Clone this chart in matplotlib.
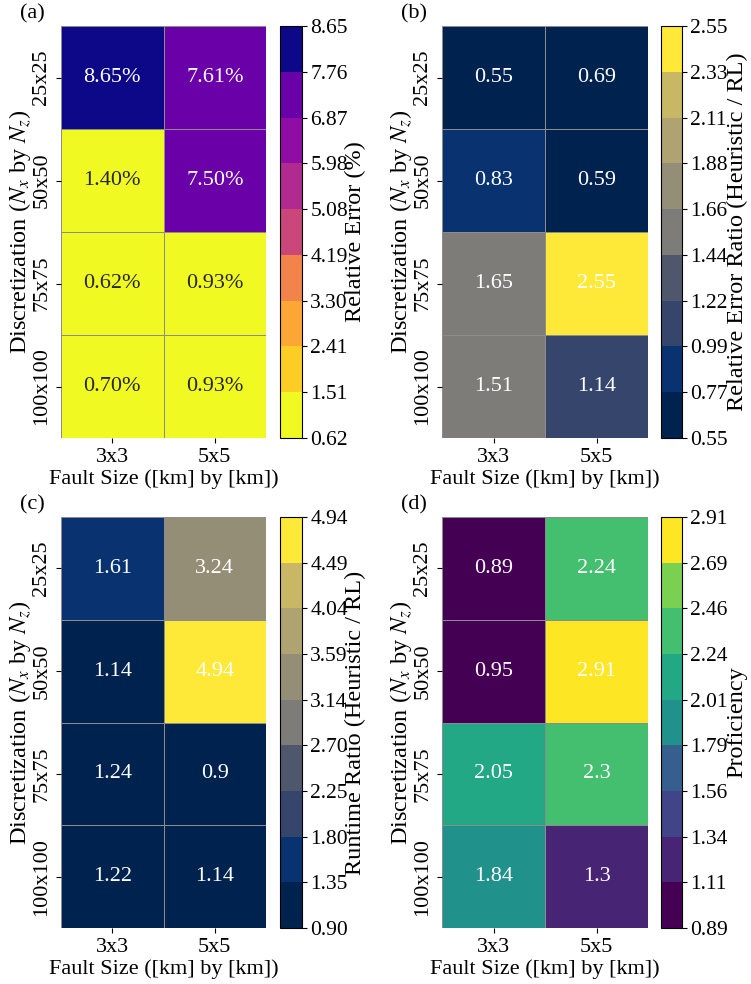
import numpy as np
import matplotlib
matplotlib.use("Agg")
import matplotlib.pyplot as plt
from matplotlib.colors import BoundaryNorm

plt.rcParams['font.family'] = ['Liberation Serif', 'DejaVu Serif']
plt.rcParams['mathtext.fontset'] = 'stix'
plt.rcParams['font.size'] = 16

fault_sizes = ['3x3', '5x5']
discretizations = ['25x25', '50x50', '75x75', '100x100']

rel_error = [[8.6523, 7.61], [1.40, 7.50], [0.6225, 0.93], [0.70, 0.93]]
err_ratio = [[0.55, 0.69], [0.83, 0.59], [1.65, 2.55], [1.51, 1.14]]
runtime_ratio = [[1.61, 3.24], [1.14, 4.94], [1.24, 0.90], [1.22, 1.14]]
proficiency = [[0.89, 2.24], [0.95, 2.91], [2.05, 2.30], [1.84, 1.30]]

panels = [
    ('(a)', rel_error, 'plasma_r', 'Relative Error (%)', 'pct'),
    ('(b)', err_ratio, 'cividis', 'Relative Error Ratio (Heuristic / RL)', 'white'),
    ('(c)', runtime_ratio, 'cividis', 'Runtime Ratio (Heuristic / RL)', 'white'),
    ('(d)', proficiency, 'viridis', 'Proficiency', 'white'),
]

W, H = 751, 984
fig = plt.figure(figsize=(W / 100, H / 100), dpi=100)

# pixel boxes: (left, right) x of heatmap and colorbar; (top, bottom) y
col_x = [(61, 266, 280, 302), (442, 648, 661, 682)]
row_y = [(26, 438), (517, 928)]
cbar_label_x = [355, 737]
ylabel_x = [20, 401]


def fmt_plain(v):
    s = '%.2f' % v
    if s.endswith('0'):
        s = s.rstrip('0').rstrip('.')
    return s


for i, (tag, data, cmap_name, cbar_label, mode) in enumerate(panels):
    r, c = divmod(i, 2)
    xl, xr, cl, cr = col_x[c]
    yt, yb = row_y[r]
    ax = fig.add_axes([xl / W, 1 - yb / H, (xr - xl) / W, (yb - yt) / H])
    cax = fig.add_axes([cl / W, 1 - yb / H, (cr - cl) / W, (yb - yt) / H])

    arr = np.array(data, dtype=float)
    vmin, vmax = arr.min(), arr.max()
    bounds = np.linspace(vmin, vmax, 10)
    cmap = plt.get_cmap(cmap_name, 11)
    norm = BoundaryNorm(bounds, 11)
    mesh = ax.pcolormesh(arr, cmap=cmap, norm=norm, edgecolors='#8c8c8c', linewidth=0.5)
    ax.set_xlim(0, arr.shape[1])
    ax.set_ylim(arr.shape[0], 0)
    for s in ax.spines.values():
        s.set_visible(False)

    for (yy, xx), v in np.ndenumerate(arr):
        if mode == 'pct':
            txt = '%.2f%%' % v
            rgba = cmap(norm(v))
            lum = 0.2126 * rgba[0] + 0.7152 * rgba[1] + 0.0722 * rgba[2]
            color = '0.15' if lum > 0.408 else 'white'
        else:
            txt = fmt_plain(v)
            color = 'white'
        ax.text(xx + 0.5, yy + 0.5, txt, ha='center', va='center', color=color, fontsize=16)

    ax.set_xticks(np.arange(arr.shape[1]) + 0.5)
    ax.set_xticklabels(fault_sizes)
    ax.set_yticks(np.arange(arr.shape[0]) + 0.5)
    ax.set_yticklabels(discretizations, rotation=90, va='center')
    ax.tick_params(labelsize=16)
    ax.set_xlabel('Fault Size ([km] by [km])', labelpad=2, fontsize=16)
    ax.set_ylabel('Discretization ($N_x$ by $N_z$)', fontsize=17.5)
    ax.yaxis.set_label_coords((ylabel_x[c] - xl) / (xr - xl), 0.5)
    ax.yaxis.label.set_va('center')
    ax.text(-0.2, 1.03, tag, transform=ax.transAxes, ha='left', va='center', fontsize=16)

    cb = fig.colorbar(mesh, cax=cax, boundaries=bounds, ticks=bounds)
    cb.ax.set_yticklabels(['%.2f' % b for b in bounds])
    cb.ax.tick_params(labelsize=15.5, pad=2.5)
    cb.set_label(cbar_label, fontsize=17.5)
    cb.ax.yaxis.set_label_coords((cbar_label_x[c] - cl) / (cr - cl), 0.5)
    cb.ax.yaxis.label.set_va('center')
    cb.outline.set_linewidth(0.8)

fig.savefig('out.png', dpi=100)
